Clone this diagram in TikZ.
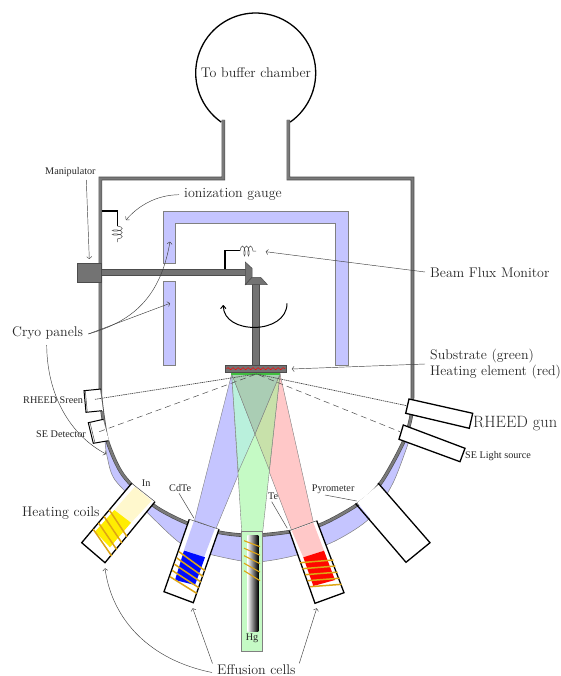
\documentclass[tikz,border=0pt]{standalone}
\usepackage{fontspec}
\usetikzlibrary{decorations.pathmorphing,arrows.meta}
\newfontfamily\timesfont{Liberation Serif}
\definecolor{beamblue}{RGB}{197,197,255}
\definecolor{beamgreen}{RGB}{197,250,197}
\definecolor{beamred}{RGB}{255,200,200}
\definecolor{beamcyan}{RGB}{185,240,220}
\definecolor{beamkhaki}{RGB}{200,225,170}
\definecolor{beamgray}{RGB}{170,205,180}
\definecolor{coilgold}{RGB}{222,165,20}
\definecolor{cream}{RGB}{255,248,205}
\tikzset{
  bigtext/.style={font=\fontsize{14}{16.5}\selectfont,inner sep=0pt,text=black!85},
  smalltext/.style={font=\timesfont\fontsize{10.2}{12}\selectfont,inner sep=0pt,text=black!85},
  pointer/.style={->,black!75,line width=0.45pt},
  wall/.style={draw=black!72,double=black!52,double distance=2.4pt,line width=0.6pt},
  edge/.style={black,line width=1.3pt},
  thinedge/.style={black!70,line width=0.5pt},
  panel/.style={fill=beamblue,draw=gray,line width=0.7pt},
  metal/.style={fill=black!55,draw=black!70,line width=0.5pt},
  beam/.style={draw=gray,line width=0.4pt},
  coilwire/.style={coilgold,line width=1.5pt},
  spring/.style={black!70,line width=0.5pt,decorate,decoration={coil,aspect=0.3,segment length=4pt,amplitude=5pt}}
}
\begin{document}
\begin{tikzpicture}[x=1pt,y=-1pt]
\useasboundingbox (0,0) rectangle (560,676);
% buffer chamber and walls
\draw[black,line width=1.3pt] plot[domain=125:415,samples=70,smooth] ({255.7+60*cos(\x)},{73+60*sin(\x)});
\node[bigtext] (buffer) at (256,72.5) {To buffer chamber};
\fill[beamblue,draw=gray,line width=0.5pt] plot[smooth] coordinates {(105,441) (107,456) (115,480) (146.7,512) (180,543) (205,553) (241.7,561) (263,561.5) (296.7,555) (335,541) (370,518) (393,483) (409,441)} -- plot[smooth] coordinates {(409,441) (403,443) (380,484) (356.7,505) (320,525) (288,532) (252,535.5) (220,532.5) (186.7,523) (153,505) (123,475) (108,443) (105,441)} -- cycle;
\draw[wall,line join=miter] (223.3,120) -- (223.3,178.5) -- (100.3,178.5) -- (100.3,395) plot[smooth] coordinates {(100.3,395) (103,417) (108,443) (123,475) (153,505) (186.7,523) (220,532.5) (252,535.5) (288,532) (320,525) (356.7,505) (380,484) (403,443) (411,417) (412.5,395)} -- (412.5,178.5) -- (288.3,178.5) -- (288.3,120);
% panels
\fill[panel] (163,211) -- (348,211) -- (348,365) -- (335.7,365) -- (335.7,223) -- (175.7,223) -- (175.7,263) -- (163,263) -- cycle;
\fill[panel] (163,281.7) rectangle (175.7,365);
% manipulator
\fill[metal] (77,263) rectangle (101.7,282);
\fill[metal] (101.7,269) rectangle (246,275.7);
\fill[metal] (252,284) rectangle (259.3,365);
\fill[metal] (245.3,262) -- (252,268.3) -- (252,277.3) -- (245.3,284.7) -- cycle;
\fill[metal] (245.3,284.7) -- (252,277.3) -- (260.7,277.3) -- (267.3,284.5) -- cycle;
\draw[edge] (225,269) -- (225,250.7) -- (240,250.7);
\draw[edge] (101.7,211) -- (117.3,211) -- (117.3,226);
\draw[spring] (240,251) -- (256,251);
\draw[spring] (117.3,226) -- (117.3,242);
\draw[-{To[length=4pt,width=6pt]},black,line width=1pt] (287,303.3) .. controls (287,335) and (223.3,335) .. (223.3,305);
% beams
\coordinate (subleft) at (231.7,374);
\coordinate (subright) at (280,374);
\coordinate (beamcross) at (255,434);
\fill[beamblue,beam] (subleft) -- (subright) -- (216,528.5) -- (194.5,520.5) -- cycle;
\fill[beamred,beam] (subleft) -- (subright) -- (313.3,522) -- (291.7,530.5) -- cycle;
\fill[beamgreen,beam] (subleft) -- (subright) -- (262.7,531.7) -- (241.7,531.7) -- cycle;
\fill[beamcyan,beam] (subleft) -- (beamcross) -- (238.3,471.7) -- cycle;
\fill[beamkhaki,beam] (subright) -- (beamcross) -- (269.3,470) -- cycle;
\fill[beamgray,beam] (subleft) -- (subright) -- (beamcross) -- cycle;
% substrate
\fill[green!50!gray] (231,372) rectangle (280,374.5);
\fill[metal] (225,365) rectangle (286.7,372.3);
\draw[red,line width=0.5pt,decorate,decoration={snake,segment length=5pt,amplitude=1.1pt}] (226.5,368.7) -- (285,368.7);
% ports on the left
\fill[white] (100,389) -- (84,390.7) -- (86,412.3) -- (103,410.7) -- cycle;
\draw[edge,line width=1pt] (101,389) -- (84,390.7) -- (86,412.3) -- (102,410.7);
\draw[thinedge] (85.3,390.7) -- (87.3,412);
\fill[white] (103,419.3) -- (88.3,422.7) -- (93.3,443.3) -- (109,440.7) -- cycle;
\draw[edge,line width=1pt] (103.5,419.3) -- (88.3,422.7) -- (93.3,443.3) -- (108.5,440.7);
\draw[thinedge] (90,422.5) -- (95,443);
% ports on the right
\fill[white] (357.3,502.7) -- (379.3,484.3) -- (430,542.7) -- (406,562.3) -- cycle;
\draw[edge] (355.5,503.5) -- (406,562.3) -- (430,542.7) -- (378,483);
\draw[edge,fill=white] (409,399) -- (472.7,413.3) -- (469.3,428.3) -- (405.7,413.3) -- cycle;
\draw[edge,fill=white] (403.3,425) -- (465,448.3) -- (460,461.7) -- (399,439.3) -- cycle;
% In cell
\fill[white] (131.7,483.3) -- (155,501.7) -- (105,562.7) -- (81.7,542.7) -- cycle;
\fill[cream] (135,486.7) -- (151.7,500.7) -- (131,522.7) -- (114.3,510) -- cycle;
\fill[yellow!95!orange] (114.3,510) -- (131,522.7) -- (110,547.3) -- (95,531.7) -- cycle;
\draw[edge] (131.7,483.3) -- (81.7,542.7) -- (105,562.7) -- (155,501.7);
\draw[thinedge] (131.7,483.3) -- (155,501.7);
\foreach \t in {0,0.33,0.67,1}
  \draw[coilwire] ({109.3-16*\t},{510+19.3*\t}) -- ({127-15.3*\t},{536.7+19.3*\t});
% CdTe cell
\fill[white] (189.3,519.3) -- (219,529.3) -- (193.3,602.7) -- (164,591.7) -- cycle;
\fill[beamblue] (194,520.7) -- (215,528.3) -- (204,557.3) -- (184,550) -- cycle;
\fill[blue!95!cyan] (184,550.5) -- (205,557.3) -- (195,585) -- (175,580) -- cycle;
\draw[edge] (189.3,519.3) -- (164,591.7) -- (193.3,602.7) -- (219,529.3);
\draw[thinedge] (189.3,519.3) -- (219,529.3);
\foreach \t in {0,0.25,0.5,0.75,1}
  \draw[coilwire] ({179-9*\t},{551.7+25*\t}) -- ({205-8.3*\t},{570.7+22.6*\t});
% Hg cell
\fill[beamgreen,draw=gray,line width=0.5pt] (241.7,531.7) rectangle (262.7,651);
\shade[left color=white,right color=black] (247.3,535) rectangle (258.3,631.7);
\foreach \t in {0,0.25,0.5,0.75,1}
  \draw[coilwire,line width=1.1pt] (244,{540.7+30*\t}) -- (260,{546.7+34*\t});
\node[smalltext] (hg) at (252,638.7) {Hg};
% Te cell
\fill[white] (289.3,530.7) -- (316.7,520.7) -- (344,592.7) -- (315,603.3) -- cycle;
\fill[beamred] (291.7,530.7) -- (313.3,522.7) -- (324,550.7) -- (303.3,557.3) -- cycle;
\fill[red!95!orange] (303.3,557.3) -- (324,550.7) -- (335,580) -- (313.3,586) -- cycle;
\draw[edge] (289.3,530.7) -- (315,603.3) -- (344,592.7) -- (316.7,520.7);
\draw[thinedge] (289.3,530.7) -- (316.7,520.7);
\foreach \t in {0,0.25,0.5,0.75,1}
  \draw[coilwire] ({300+10*\t},{562.7+24*\t}) -- ({333.3+8.4*\t},{560+24.3*\t});
% RHEED and SE paths
\coordinate (hit) at (256.5,374);
\draw[black!70,line width=0.7pt,dash pattern=on 1.5pt off 0.7pt] (95,399.3) -- (hit) -- (406.7,405.7);
\draw[black!70,line width=0.5pt,dash pattern=on 6pt off 4pt] (99.3,431.7) -- (hit) -- (400,431.7);
% labels
\node[smalltext,anchor=west] (manip) at (45,172) {Manipulator};
\node[bigtext,anchor=west] (gauge) at (184,194.7) {ionization gauge};
\node[bigtext,anchor=west] (flux) at (430,273) {Beam Flux Monitor};
\node[bigtext,anchor=west] (cryo) at (12,333) {Cryo panels};
\node[bigtext,anchor=west,align=left,font=\fontsize{13.9}{16.5}\selectfont] (subst) at (430,364) {Substrate (green)\\Heating element (red)};
\node[smalltext,anchor=west] (screen) at (23,400.6) {RHEED Sreen};
\node[smalltext,anchor=west] (detector) at (36,433.7) {SE Detector};
\node[bigtext,anchor=west,font=\fontsize{16.4}{18}\selectfont] (gun) at (473,424) {RHEED gun};
\node[smalltext,anchor=west] (light) at (465,456) {SE Light source};
\node[smalltext,anchor=west] (pyro) at (311.7,489) {Pyrometer};
\node[smalltext,anchor=west] (in) at (141.7,483) {In};
\node[smalltext,anchor=west] (cdte) at (169,487.7) {CdTe};
\node[smalltext,anchor=west] (te) at (268,496.7) {Te};
\node[bigtext,anchor=west] (coils) at (22,513) {Heating coils};
\node[bigtext,anchor=west] (cells) at (217,669.5) {Effusion cells};
% pointers
\coordinate (manipend) at (89.3,259);
\coordinate (gaugeend) at (126,220);
\coordinate (fluxend) at (265.7,251.7);
\coordinate (cryotop) at (170,241.7);
\coordinate (cryomid) at (170,303.3);
\coordinate (cryolow) at (106,454);
\coordinate (substend) at (291.7,369);
\coordinate (cellin) at (105,568.3);
\coordinate (cellcd) at (192.7,608.3);
\coordinate (cellte) at (316.7,608.3);
\draw[pointer] (86.3,180) -- (manipend);
\draw[pointer] (gauge.west) ++(-5,0) .. controls (155,195) and (137,207) .. (gaugeend);
\draw[pointer] (flux.west) ++(-5,-1) -- (fluxend);
\draw[pointer] (cryo.east) ++(5,1) .. controls (130,322) and (160,300) .. (cryotop);
\draw[pointer] (cryo.east) ++(5,1) -- (cryomid);
\draw[pointer] (46.7,345) .. controls (47,395) and (70,435) .. (cryolow);
\draw[pointer] (subst.west) ++(-5,0) -- (substend);
\draw[pointer] (cells.west) ++(-5,3) .. controls (150,660) and (112,620) .. (cellin);
\draw[pointer] (cells.west) ++(-4.5,-6) -- (cellcd);
\draw[pointer] (299.3,663.3) -- (cellte);
\draw[thinedge] (179,493.3) -- (194,518.3);
\draw[thinedge] (271.7,501.7) -- (287.3,528.3);
\draw[thinedge] (325,495) -- (356.7,501);
\end{tikzpicture}
\end{document}
